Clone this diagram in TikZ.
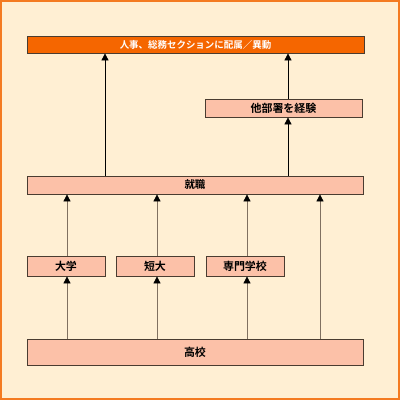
\documentclass[tikz,border=0pt]{standalone}
\usepackage{fontspec}
\newfontfamily\jp{Noto Sans CJK JP Bold}
\usetikzlibrary{arrows.meta}
\definecolor{bg}{HTML}{FFEFD3}
\definecolor{frame}{HTML}{F47A20}
\definecolor{topfill}{HTML}{F56600}
\definecolor{boxfill}{HTML}{FCC1A8}
\definecolor{boxline}{HTML}{4A3C30}
\definecolor{arrline}{HTML}{807060}
\tikzset{
  box/.style={draw=boxline, line width=0.8bp, fill=boxfill, font=\jp\fontsize{11}{12}\selectfont, text=black, inner sep=0pt},
  topbox/.style={box, fill=topfill, text=white, font=\jp\fontsize{9.5}{10}\selectfont},
  arr/.style={-{Triangle[length=7bp,width=7bp,color=black]}, line width=0.8bp, draw=black},
  arrg/.style={arr, draw=arrline},
}
\begin{document}
\begin{tikzpicture}[x=1bp,y=-1bp]
\fill[frame] (0,0) rectangle (400,400);
\fill[bg] (2,2) rectangle (398,398);
\useasboundingbox (0,0) rectangle (400,400);
\node[topbox, minimum width=337bp, minimum height=17bp] (top) at (195.5,44.5) {人事、総務セクションに配属／異動};
\node[box, minimum width=157bp, minimum height=18bp] (other) at (283.5,108) {他部署を経験};
\node[box, minimum width=336bp, minimum height=18bp, font=\jp\fontsize{10.5}{11}\selectfont] (job) at (195,185) {就職};
\node[box, minimum width=78bp, minimum height=20bp] (univ) at (66,266) {大学};
\node[box, minimum width=78bp, minimum height=20bp] (junior) at (155,266) {短大};
\node[box, minimum width=78bp, minimum height=20bp] (voc) at (245,266) {専門学校};
\node[box, minimum width=336bp, minimum height=26bp] (hs) at (195,352) {高校};
\draw[arr] (job.north -| 105,0) -- (top.south -| 105,0);
\draw[arr] (other.north -| 288,0) -- (top.south -| 288,0);
\draw[arr] (job.north -| 288,0) -- (other.south -| 288,0);
\draw[arrg] (univ.north -| 67,0) -- (job.south -| 67,0);
\draw[arrg] (junior.north -| 157,0) -- (job.south -| 157,0);
\draw[arrg] (voc.north -| 247,0) -- (job.south -| 247,0);
\draw[arrg] (hs.north -| 320,0) -- (job.south -| 320,0);
\draw[arrg] (hs.north -| 67,0) -- (univ.south -| 67,0);
\draw[arrg] (hs.north -| 157,0) -- (junior.south -| 157,0);
\draw[arrg] (hs.north -| 247,0) -- (voc.south -| 247,0);
\end{tikzpicture}
\end{document}
